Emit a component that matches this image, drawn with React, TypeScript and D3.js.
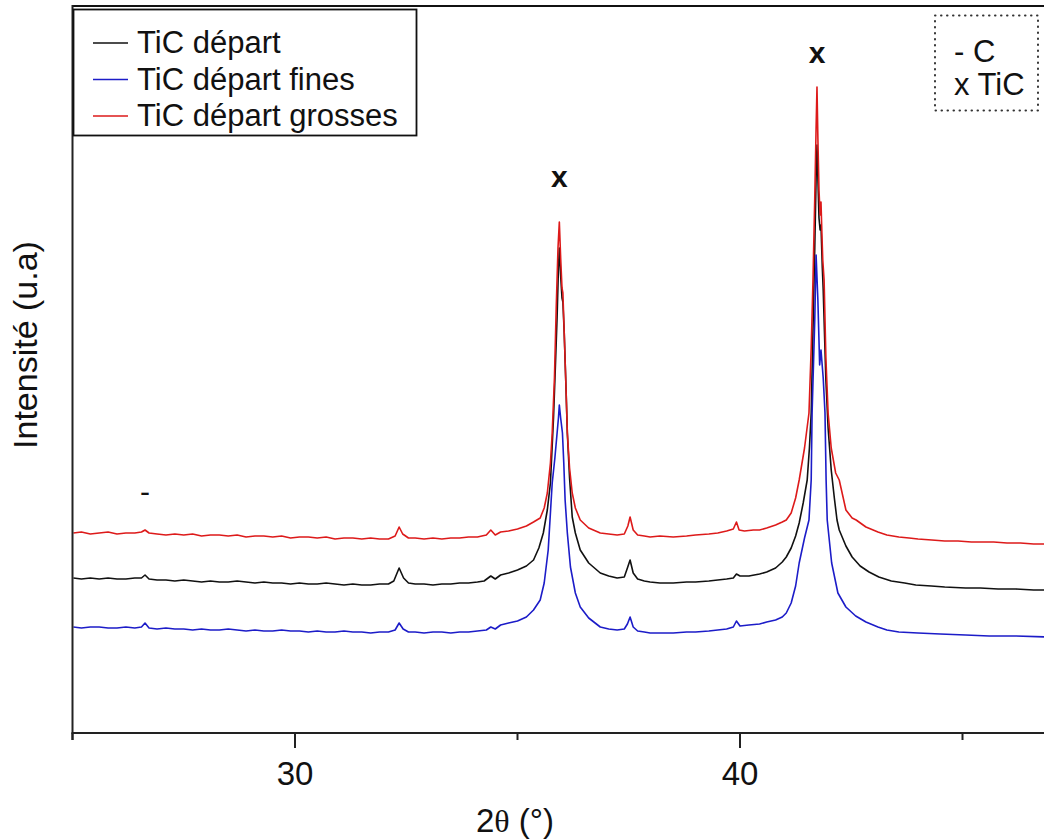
import React from "react";
import * as d3 from "d3";

type Pt = [number, number];

const seriesNames = ["TiC départ", "TiC départ fines", "TiC départ grosses"];
const seriesColors = ["#111111", "#1c1cc8", "#dd1a1a"];

const xTicks = [25, 30, 35, 40, 45];
const xTickLabels = ["", "30", "", "40", ""];

const phaseLegend = ["- C", "x TiC"];

const blackSeries: Pt[] = [
  [25.02,160],[25.2,159],[25.4,160],[25.6,159],[25.8,160],[26.0,159],[26.2,159],[26.4,160],[26.55,160],[26.63,163],[26.72,159],[26.9,158],[27.1,158],[27.3,157],[27.5,158],[27.7,157],[27.9,156],[28.1,157],[28.3,156],[28.5,156],[28.7,157],[28.9,156],[29.1,155],[29.3,156],[29.5,155],[29.7,155],[29.9,154],[30.1,155],[30.3,154],[30.5,154],[30.7,155],[30.9,154],[31.1,153],[31.3,154],[31.5,153],[31.7,153],[31.9,154],[32.1,154],[32.22,157],[32.34,170],[32.44,160],[32.55,155],[32.7,154],[32.9,154],[33.1,153],[33.3,154],[33.5,154],[33.7,155],[33.9,155],[34.1,156],[34.25,157],[34.4,162],[34.5,159],[34.62,163],[34.8,165],[35.0,168],[35.2,172],[35.36,178],[35.48,190],[35.58,205],[35.67,228],[35.74,255],[35.81,321],[35.85,370],[35.89,421],[35.92,470],[35.94,490],[35.97,462],[36.0,440],[36.02,436],[36.05,405],[36.09,350],[36.12,305],[36.17,260],[36.23,221],[36.3,205],[36.41,188],[36.6,175],[36.86,165],[37.05,162],[37.24,160],[37.4,161],[37.47,170],[37.53,178],[37.6,165],[37.7,159],[37.85,157],[37.98,156],[38.2,155],[38.5,155],[38.8,156],[39.0,156],[39.3,157],[39.5,158],[39.7,159],[39.85,160],[39.92,164],[40.0,162],[40.2,162],[40.44,164],[40.6,166],[40.8,170],[40.95,176],[41.04,181],[41.15,190],[41.25,202],[41.33,215],[41.42,235],[41.51,258],[41.56,290],[41.6,325],[41.64,408],[41.68,490],[41.71,560],[41.73,593],[41.75,560],[41.775,520],[41.8,508],[41.82,513],[41.85,470],[41.87,448],[41.93,358],[41.98,310],[42.05,268],[42.12,240],[42.18,218],[42.23,208],[42.38,192],[42.52,181],[42.7,172],[42.9,166],[43.12,161],[43.4,157],[43.7,155],[43.95,153],[44.3,152],[44.6,151],[45.07,150],[45.4,150],[45.8,149],[46.2,149],[46.6,148],[46.92,148]
];

const blueSeries: Pt[] = [
  [25.02,111],[25.2,110],[25.4,111],[25.6,111],[25.8,110],[26.0,110],[26.2,111],[26.4,110],[26.55,111],[26.63,115],[26.72,110],[26.9,109],[27.1,110],[27.3,109],[27.5,109],[27.7,108],[27.9,109],[28.1,108],[28.3,108],[28.5,109],[28.7,108],[28.9,107],[29.1,108],[29.3,107],[29.5,107],[29.7,108],[29.9,107],[30.1,107],[30.3,106],[30.5,107],[30.7,106],[30.9,106],[31.1,107],[31.3,106],[31.5,106],[31.7,105],[31.9,106],[32.1,106],[32.25,108],[32.34,115],[32.43,109],[32.55,106],[32.7,106],[32.9,105],[33.1,106],[33.3,106],[33.5,105],[33.7,106],[33.9,106],[34.1,107],[34.3,108],[34.4,111],[34.5,109],[34.62,113],[34.8,115],[35.0,117],[35.2,121],[35.36,128],[35.51,138],[35.6,155],[35.69,188],[35.78,255],[35.84,280],[35.89,305],[35.92,320],[35.94,333],[35.97,320],[36.01,305],[36.04,275],[36.07,238],[36.12,205],[36.19,171],[36.3,145],[36.41,131],[36.6,120],[36.86,111],[37.05,109],[37.24,108],[37.4,109],[37.47,114],[37.53,121],[37.6,111],[37.7,107],[37.85,106],[37.98,105],[38.2,105],[38.5,105],[38.8,106],[39.0,106],[39.3,107],[39.5,108],[39.7,109],[39.85,111],[39.92,117],[40.0,112],[40.2,113],[40.44,114],[40.6,116],[40.8,118],[40.95,121],[41.04,125],[41.15,135],[41.25,152],[41.33,175],[41.45,200],[41.55,218],[41.6,258],[41.62,325],[41.68,418],[41.71,483],[41.75,438],[41.79,373],[41.82,388],[41.87,360],[41.91,325],[41.935,258],[41.96,218],[42.06,175],[42.2,145],[42.38,131],[42.6,122],[42.83,116],[43.1,111],[43.3,108],[43.57,106],[44.0,105],[44.5,104],[45.07,103],[45.6,102],[46.2,102],[46.92,101]
];

const redSeries: Pt[] = [
  [25.02,205],[25.2,206],[25.4,204],[25.6,205],[25.8,206],[26.0,204],[26.2,205],[26.4,205],[26.55,206],[26.63,208],[26.72,205],[26.9,204],[27.1,203],[27.3,204],[27.5,203],[27.7,204],[27.9,202],[28.1,203],[28.3,203],[28.5,202],[28.7,203],[28.9,201],[29.1,202],[29.3,202],[29.5,201],[29.7,202],[29.9,200],[30.1,201],[30.3,201],[30.5,200],[30.7,201],[30.9,199],[31.1,200],[31.3,200],[31.5,199],[31.7,200],[31.9,199],[32.1,199],[32.25,202],[32.34,211],[32.42,204],[32.55,200],[32.7,200],[32.9,199],[33.1,200],[33.3,199],[33.5,200],[33.7,200],[33.9,201],[34.1,201],[34.3,203],[34.4,208],[34.5,203],[34.62,206],[34.8,207],[35.0,209],[35.2,212],[35.36,216],[35.51,220],[35.6,230],[35.67,245],[35.74,275],[35.78,305],[35.83,360],[35.87,430],[35.91,490],[35.94,516],[35.97,480],[36.0,450],[36.02,445],[36.05,405],[36.09,350],[36.12,305],[36.17,270],[36.23,245],[36.3,230],[36.41,218],[36.6,210],[36.86,205],[37.05,204],[37.24,203],[37.4,204],[37.48,212],[37.53,221],[37.6,208],[37.7,203],[37.85,202],[37.98,201],[38.2,202],[38.5,201],[38.8,202],[39.0,203],[39.3,204],[39.5,205],[39.7,207],[39.85,209],[39.92,216],[39.98,208],[40.1,207],[40.3,208],[40.44,208],[40.6,210],[40.8,213],[40.95,216],[41.04,218],[41.15,225],[41.25,240],[41.33,258],[41.45,290],[41.55,325],[41.6,390],[41.64,458],[41.68,540],[41.71,610],[41.73,651],[41.75,600],[41.775,548],[41.8,523],[41.82,536],[41.84,505],[41.86,478],[41.89,458],[41.93,380],[41.98,325],[42.05,290],[42.15,265],[42.23,258],[42.38,228],[42.52,220],[42.61,218],[42.83,211],[43.1,206],[43.3,203],[43.57,201],[43.8,200],[44.0,199],[44.31,198],[44.6,197],[44.9,197],[45.2,196],[45.43,196],[45.7,196],[46.0,195],[46.3,195],[46.6,194],[46.92,194]
];

const allSeries = [blackSeries, blueSeries, redSeries];

const peakMarks: { x: number; y: number; label: string }[] = [
  { x: 26.63, y: 236, label: "-" },
  { x: 35.94, y: 551, label: "x" },
  { x: 41.73, y: 675, label: "x" },
];

const W = 1044;
const H = 839;
const FONT = "'Liberation Sans', Arial, Helvetica, sans-serif";

export default function App() {
  const x = d3.scaleLinear().domain([25, 47]).range([72.5, 72.5 + 22 * 44.5]);
  const y = d3.scaleLinear().domain([5, 732]).range([733, 6]);
  const line = d3
    .line<Pt>()
    .x((d) => x(d[0]))
    .y((d) => y(d[1]));

  const drawOrder = [0, 1, 2];
  const left = x(25);
  const bottom = y(5);
  const top = y(732);

  return (
    <svg
      width={W}
      height={H}
      style={{ position: "absolute", left: 0, top: 0, background: "#fff" }}
      fontFamily={FONT}
    >
      <rect x={0} y={0} width={W} height={H} fill="#fff" />
      {drawOrder.map((i) => (
        <path
          key={i}
          d={line(allSeries[i]) || ""}
          fill="none"
          stroke={seriesColors[i]}
          strokeWidth={1.6}
          strokeLinejoin="round"
        />
      ))}
      {/* frame */}
      <line x1={left} x2={W + 10} y1={top} y2={top} stroke="#111" strokeWidth={2.2} />
      <line x1={left} x2={left} y1={top - 1} y2={bottom + 7} stroke="#222" strokeWidth={2} />
      <line x1={left - 1} x2={W + 10} y1={bottom} y2={bottom} stroke="#222" strokeWidth={2} />
      {xTicks.map((t, i) => {
        const major = xTickLabels[i] !== "";
        return (
          <g key={t}>
            <line
              x1={x(t)}
              x2={x(t)}
              y1={bottom}
              y2={bottom + (major ? 15 : 7)}
              stroke="#222"
              strokeWidth={2}
            />
            {major && (
              <text x={x(t)} y={785} textAnchor="middle" fontSize={33} fill="#111">
                {xTickLabels[i]}
              </text>
            )}
          </g>
        );
      })}
      <text x={515} y={832} textAnchor="middle" fontSize={33} fill="#111">
        2<tspan fontFamily="'Liberation Serif', 'DejaVu Serif', serif" fontSize={32}>θ</tspan> (°)
      </text>
      <text
        transform="translate(37,345) rotate(-90)"
        textAnchor="middle"
        fontSize={34}
        fill="#111"
      >
        Intensité (u.a)
      </text>
      {/* series legend */}
      <rect x={73.5} y={9.5} width={343} height={126} fill="#fff" stroke="#111" strokeWidth={1.8} />
      {seriesNames.map((n, i) => (
        <g key={n}>
          <line x1={93} x2={128} y1={43 + i * 36.5} y2={43 + i * 36.5} stroke={seriesColors[i]} strokeWidth={1.6} />
          <text x={137} y={53 + i * 36.5} fontSize={31} fill="#111">
            {n}
          </text>
        </g>
      ))}
      {/* phase legend */}
      <rect
        x={935}
        y={15.5}
        width={103}
        height={95}
        fill="#fff"
        stroke="#333"
        strokeWidth={2}
        strokeDasharray="0.5,5.5"
        strokeLinecap="round"
      />
      {phaseLegend.map((t, i) => (
        <text key={t} x={954} y={62 + i * 33} fontSize={31} fill="#111">
          {t}
        </text>
      ))}
      {peakMarks.map((m, i) => (
        <text key={i} x={x(m.x)} y={y(m.y)} textAnchor="middle" fontSize={30} fontWeight={m.label === "x" ? 600 : 400} fill="#111">
          {m.label}
        </text>
      ))}
    </svg>
  );
}
